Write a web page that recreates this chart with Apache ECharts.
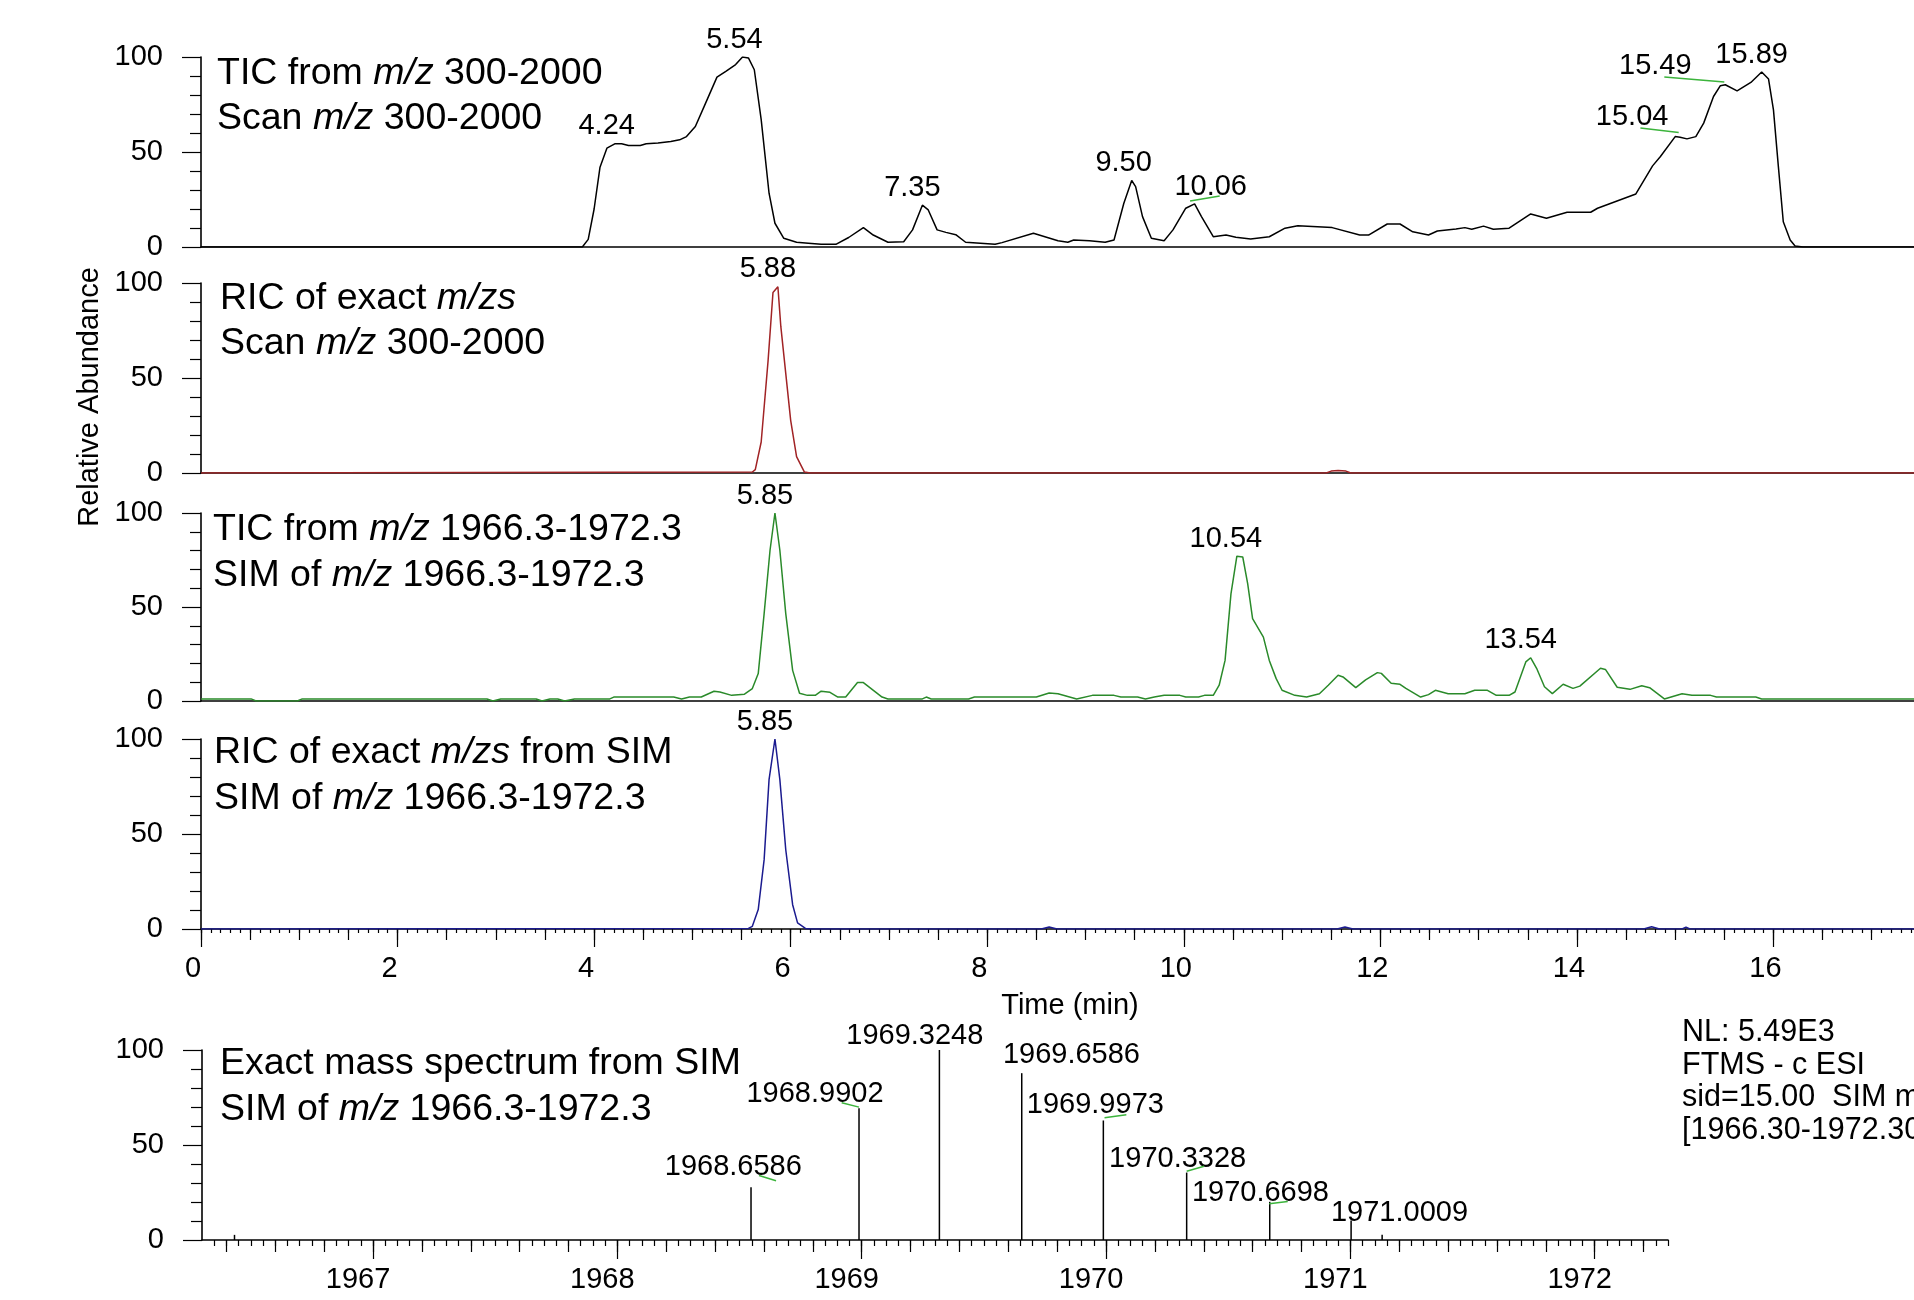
<!DOCTYPE html>
<html>
<head>
<meta charset="utf-8">
<title>TIC / RIC chromatograms and exact mass spectrum</title>
<script src="https://cdn.jsdelivr.net/npm/echarts@6.0.0/dist/echarts.min.js"></script>
<style>
  html, body { margin: 0; padding: 0; background: #fff; }
  #chart { width: 1914px; height: 1300px; }
</style>
</head>
<body>
<div id="chart"></div>
<script>
// ---- values ----
// TIC from m/z 300-2000 (black)
const ticTimes = [0, 3.88, 3.94, 4.00, 4.06, 4.13, 4.21, 4.28, 4.35, 4.47, 4.53, 4.65, 4.78, 4.87, 4.94, 5.03, 5.12, 5.25, 5.34, 5.44, 5.51, 5.57, 5.63, 5.70, 5.78, 5.84, 5.93, 6.06, 6.18, 6.31, 6.46, 6.59, 6.74, 6.84, 6.99, 7.15, 7.24, 7.34, 7.40, 7.49, 7.58, 7.68, 7.78, 8.08, 8.15, 8.47, 8.72, 8.82, 8.88, 9.04, 9.20, 9.29, 9.39, 9.47, 9.51, 9.58, 9.67, 9.80, 9.89, 10.02, 10.11, 10.18, 10.30, 10.43, 10.53, 10.68, 10.87, 11.03, 11.16, 11.51, 11.79, 11.88, 12.07, 12.20, 12.33, 12.49, 12.58, 12.77, 12.86, 12.93, 13.05, 13.15, 13.31, 13.53, 13.69, 13.90, 14.14, 14.21, 14.60, 14.77, 14.85, 15.00, 15.05, 15.12, 15.21, 15.29, 15.39, 15.46, 15.51, 15.63, 15.77, 15.88, 15.95, 16.00, 16.05, 16.10, 16.17, 16.22, 16.30, 17.43];
const ticValues = [0, 0, 4, 20, 42, 52, 54.3, 54.3, 53.4, 53.4, 54.3, 54.7, 55.5, 56.4, 58.1, 63.4, 74, 89.4, 92.4, 96, 100, 99.5, 93.3, 67, 28.3, 12.5, 4.6, 2.5, 2, 1.4, 1.4, 5, 10.2, 6.3, 2.5, 2.8, 9, 22, 19.5, 9, 7.7, 6.5, 2.5, 1.4, 2.3, 7.2, 3.3, 2.5, 3.7, 3.3, 2.5, 3.7, 23, 35, 31.8, 16, 4.6, 3.3, 9, 20.4, 22.7, 16, 5.4, 6.3, 5.1, 4.2, 5.4, 9.9, 11.2, 10.2, 6.3, 6.3, 12.1, 12.1, 8, 6.3, 8.4, 9.5, 10.2, 9.3, 11, 9.3, 9.9, 17.4, 15.1, 18.3, 18.3, 20.4, 27.9, 42.7, 47.6, 58.1, 57.8, 56.9, 58.1, 65.2, 79.2, 84.9, 85.4, 82.2, 86.6, 92.1, 88.4, 72.2, 42.3, 13.3, 3.7, 0.5, 0, 0];
const ticPeakTimes = [4.24, 5.54, 7.35, 9.50, 10.06, 15.04, 15.49, 15.89];
const ticPeakHeights = [54.3, 100, 22, 35, 22, 58, 85.4, 92.1];

// RIC of exact m/zs, scan (dark red)
const ricTimes = [0, 5.61, 5.64, 5.70, 5.77, 5.82, 5.87, 5.90, 6.00, 6.06, 6.14, 6.20, 11.45, 11.50, 11.57, 11.65, 11.70, 17.43];
const ricValues = [0, 0.5, 1.8, 16.3, 59, 95, 98, 77, 27.7, 8.6, 0.5, 0, 0, 1, 1.3, 1, 0, 0];
const ricPeakTimes = [5.88];
const ricPeakHeights = [98];

// TIC from m/z 1966.3-1972.3, SIM (green)
const simTicTimes = [0, 0.51, 0.56, 0.98, 1.03, 2.91, 2.97, 3.05, 3.41, 3.47, 3.55, 3.63, 3.70, 3.80, 4.16, 4.20, 4.81, 4.89, 4.97, 5.09, 5.22, 5.28, 5.40, 5.53, 5.61, 5.67, 5.73, 5.79, 5.84, 5.89, 5.95, 6.02, 6.09, 6.17, 6.25, 6.31, 6.40, 6.48, 6.56, 6.68, 6.74, 6.93, 6.99, 7.34, 7.38, 7.43, 7.81, 7.87, 8.50, 8.63, 8.72, 8.91, 9.07, 9.29, 9.36, 9.53, 9.61, 9.70, 9.80, 9.96, 10.02, 10.15, 10.21, 10.30, 10.36, 10.42, 10.48, 10.54, 10.60, 10.65, 10.70, 10.81, 10.87, 10.94, 11.00, 11.13, 11.25, 11.38, 11.47, 11.57, 11.62, 11.75, 11.85, 11.97, 12.01, 12.11, 12.20, 12.26, 12.41, 12.49, 12.56, 12.69, 12.86, 12.96, 13.09, 13.18, 13.31, 13.37, 13.48, 13.53, 13.59, 13.67, 13.75, 13.86, 13.96, 14.03, 14.24, 14.29, 14.41, 14.54, 14.66, 14.74, 14.89, 15.07, 15.17, 15.36, 15.42, 15.82, 15.88, 17.43];
const simTicValues = [1.1, 1.1, 0, 0, 1.1, 1.1, 0, 1.1, 1.1, 0, 1.1, 1.1, 0, 1.1, 1.1, 2.1, 2.1, 1.1, 2.1, 2.1, 5.2, 4.8, 3, 3.6, 6.6, 14.6, 46.5, 80.2, 100, 80.2, 46.5, 16.3, 4.1, 3, 3, 5.2, 4.6, 2.1, 2.1, 9.8, 9.8, 2.1, 1.1, 1.1, 2.1, 1.1, 1.1, 2.1, 2.1, 4.3, 3.9, 1.1, 3, 3, 2.1, 2.1, 1.1, 2.1, 3, 3, 2.1, 2.1, 3, 3, 8.4, 21.6, 57, 77, 76.6, 62.4, 43.8, 34, 21.6, 11.9, 5.7, 3, 2.1, 3.9, 8.4, 13.7, 12.8, 7.1, 11.2, 15.1, 14.7, 9.4, 8.9, 6.7, 2.1, 3.4, 5.7, 3.9, 3.9, 5.7, 5.7, 3, 3, 4.8, 20.8, 23, 17.4, 7.6, 3.9, 8.9, 6.7, 7.9, 17.4, 16.8, 7.3, 6.2, 8.1, 7.1, 1.1, 3.9, 3, 3, 2.1, 2.1, 1.1, 1.1];
const simTicPeakTimes = [5.85, 10.54, 13.54];
const simTicPeakHeights = [100, 77, 23];

// RIC of exact m/zs from SIM (navy)
const simRicTimes = [0, 5.57, 5.61, 5.67, 5.73, 5.78, 5.84, 5.89, 5.95, 6.02, 6.07, 6.15, 6.20, 8.55, 8.63, 8.71, 11.56, 11.64, 11.72, 14.68, 14.76, 14.84, 15.07, 15.11, 15.15, 17.43];
const simRicValues = [0, 0.3, 1.4, 10.2, 36.5, 78.6, 100, 78.6, 41.7, 12.8, 3.2, 0.3, 0, 0, 1, 0, 0, 1, 0, 0, 1.2, 0, 0, 1, 0, 0];
const simRicPeakTimes = [5.85];
const simRicPeakHeights = [100];

// exact mass spectrum from SIM
const specMz = [1966.433, 1968.547, 1968.989, 1969.318, 1969.655, 1969.989, 1970.330, 1970.670, 1971.003, 1971.130];
const specIntensity = [2.7, 27.8, 69.4, 100, 87.8, 62.9, 35.5, 20.1, 10.3, 2.7];
const specLabels = ['', '1968.6586', '1968.9902', '1969.3248', '1969.6586', '1969.9973', '1970.3328', '1970.6698', '1971.0009', ''];

// axes
const timeTickLabels = [0, 2, 4, 6, 8, 10, 12, 14, 16];
const mzTickLabels = [1967, 1968, 1969, 1970, 1971, 1972];
const timeAxisEnd = 17.43;          // the figure is cut off here
const mzRange = [1966.3, 1972.3];

// ---- styling ----
const FONT = '"Liberation Sans", Arial, Helvetica, sans-serif';
const LEADER = '#3cb43c';
const DEFAULT_OFF = [-11, -17.5];

// label placement (px relative to peak top) where the label was pushed aside
const peakLabelOffsets = {
  '10.06': [21, -18.6],
  '15.04': [-47, -19.5],
  '15.49': [-68, -18.3]
};
const peakLeaders = {
  '10.06': [0.4, -4.3, 30, -9.3],
  '15.04': [-38.7, -8.7, -0.4, -4.3],
  '15.49': [-59, -7.7, 1, -2.7]
};
const specLabelOffsets = {
  '1968.6586': [-17.7, -19.7],
  '1968.9902': [-44, -14.4],
  '1969.3248': [-24.6, -13.8],
  '1969.6586': [49.7, -17.7],
  '1969.9973': [-8, -15],
  '1970.3328': [-9, -13.7],
  '1970.6698': [-9.3, -8.8],
  '1971.0009': [48.4, -7.5]
};
const specLeaders = {
  '1968.6586': [8, -11.7, 25, -6.4],
  '1968.9902': [-17.3, -5.4, 0, -1],
  '1969.9973': [1.2, -2.7, 23, -5.7],
  '1970.3328': [0, -1.3, 17.4, -6.3],
  '1970.6698': [-0.6, 2, 18, -0.3]
};

const zip = (xs, ys) => xs.map((x, i) => [x, ys[i]]);

const steps = (from, to, step) => {
  const out = [];
  for (let k = Math.ceil(from / step - 1e-9); k * step <= to + 1e-9; k++) {
    out.push(+(k * step).toFixed(4));
  }
  return out;
};

const grids = [
  { left: 201, top: 57, width: 1713, height: 190 },
  { left: 201, top: 283, width: 1713, height: 190 },
  { left: 201, top: 513, width: 1713, height: 188 },
  { left: 201, top: 739, width: 1713, height: 190 },
  { left: 202, top: 1050, width: 1466, height: 190 }
].map(g => Object.assign({ outerBoundsMode: 'none', containLabel: false }, g));

const tickStyle = { color: '#000', width: 1.2 };

// plain baseline axis
const baselineAxis = (gridIndex) => ({
  type: 'value', gridIndex, min: 0, max: timeAxisEnd, position: 'bottom',
  axisLine: { show: true, onZero: false, lineStyle: { color: '#000', width: 1.6 } },
  axisTick: { show: false },
  axisLabel: { show: false },
  splitLine: { show: false }
});

// one level of ticks (extra axes stacked on the same grid)
const tickAxis = (gridIndex, min, max, values, length, labels, labelShift) => ({
  type: 'value', gridIndex, min, max, position: 'bottom',
  axisLine: { show: !!labels, onZero: false, lineStyle: { color: '#000', width: 1.6 } },
  axisTick: { show: true, customValues: values, length, lineStyle: tickStyle },
  axisLabel: labels ? {
    show: true, customValues: labels, fontSize: 29, fontFamily: FONT, color: '#000',
    margin: 25, padding: [0, labelShift, 0, 0], formatter: v => String(v)
  } : { show: false },
  splitLine: { show: false }
});

const yAxis = (gridIndex) => ({
  type: 'value', gridIndex, min: 0, max: 100, interval: 50,
  axisLine: { show: true, onZero: false, lineStyle: { color: '#000', width: 1.6 } },
  axisTick: { show: true, length: 19, lineStyle: tickStyle },
  minorTick: { show: true, splitNumber: 5, length: 11, lineStyle: tickStyle },
  axisLabel: { show: true, fontSize: 29, fontFamily: FONT, color: '#000', margin: 38, padding: [6, 0, 0, 0] },
  splitLine: { show: false },
  minorSplitLine: { show: false }
});

const xAxes = [
  baselineAxis(0),
  baselineAxis(1),
  baselineAxis(2),
  tickAxis(3, 0, timeAxisEnd, timeTickLabels, 18, timeTickLabels, 16),
  tickAxis(3, 0, timeAxisEnd, steps(0, timeAxisEnd, 0.5), 11),
  tickAxis(3, 0, timeAxisEnd, steps(0, timeAxisEnd, 0.1), 4),
  tickAxis(4, mzRange[0], mzRange[1], mzTickLabels, 19, mzTickLabels, 30),
  tickAxis(4, mzRange[0], mzRange[1], steps(mzRange[0], mzRange[1], 0.2), 12),
  tickAxis(4, mzRange[0], mzRange[1], steps(mzRange[0] + 0.01, mzRange[1], 0.05), 6)
];

const trace = (xIdx, yIdx, xs, ys, color) => ({
  type: 'line', xAxisIndex: xIdx, yAxisIndex: yIdx,
  data: zip(xs, ys), showSymbol: false, symbol: 'none', smooth: false,
  lineStyle: { color, width: 1.5 }, z: 3
});

// peak labels with optional green leader
const labelSeries = (xIdx, yIdx, xs, ys, texts, offsets, leaders) => ({
  type: 'custom', xAxisIndex: xIdx, yAxisIndex: yIdx, clip: false, silent: true, z: 6,
  data: zip(xs, ys),
  renderItem: (params, api) => {
    const txt = texts[params.dataIndex];
    if (!txt) return null;
    const p = api.coord([api.value(0), api.value(1)]);
    const off = offsets[txt] || DEFAULT_OFF;
    const children = [{
      type: 'text', x: p[0] + off[0], y: p[1] + off[1],
      style: { text: txt, font: '29px ' + FONT, fill: '#000', align: 'center', verticalAlign: 'middle' }
    }];
    const ld = leaders[txt];
    if (ld) {
      children.push({
        type: 'line',
        shape: { x1: p[0] + ld[0], y1: p[1] + ld[1], x2: p[0] + ld[2], y2: p[1] + ld[3] },
        style: { stroke: LEADER, lineWidth: 1.5 }
      });
    }
    return { type: 'group', children };
  }
});

// centroid sticks of the spectrum
const stickSeries = {
  type: 'custom', xAxisIndex: 6, yAxisIndex: 4, z: 3,
  data: zip(specMz, specIntensity),
  renderItem: (params, api) => {
    const top = api.coord([api.value(0), api.value(1)]);
    const base = api.coord([api.value(0), 0]);
    return {
      type: 'line',
      shape: { x1: top[0], y1: top[1], x2: base[0], y2: base[1] },
      style: { stroke: '#000', lineWidth: 1.5 }
    };
  }
};

const fmt = t => t.toFixed(2);

// panel captions
const rich = {
  n: { fontSize: 37.5, fontFamily: FONT, fill: '#000' },
  i: { fontSize: 37.5, fontFamily: FONT, fontStyle: 'italic', fill: '#000' }
};
const caption = (x, y, text) => ({
  type: 'text', x, y, silent: true,
  style: { text, rich, verticalAlign: 'middle', align: 'left' }
});
const plain = (x, y, text, extra) => ({
  type: 'text', x, y, silent: true,
  style: Object.assign({ text, font: '29px ' + FONT, fill: '#000', verticalAlign: 'middle', align: 'left' }, extra)
});

const graphic = [
  caption(217, 74, '{n|TIC from }{i|m/z}{n| 300-2000}'),
  caption(217, 119, '{n|Scan }{i|m/z}{n| 300-2000}'),
  caption(220, 299, '{n|RIC of exact }{i|m/zs}'),
  caption(220, 344, '{n|Scan }{i|m/z}{n| 300-2000}'),
  caption(213, 530, '{n|TIC from }{i|m/z}{n| 1966.3-1972.3}'),
  caption(213, 576, '{n|SIM of }{i|m/z}{n| 1966.3-1972.3}'),
  caption(214, 753, '{n|RIC of exact }{i|m/zs}{n| from SIM}'),
  caption(214, 799, '{n|SIM of }{i|m/z}{n| 1966.3-1972.3}'),
  caption(220, 1064, '{n|Exact mass spectrum from SIM}'),
  caption(220, 1110, '{n|SIM of }{i|m/z}{n| 1966.3-1972.3}'),
  plain(1070, 1006, 'Time (min)', { align: 'center' }),
  Object.assign(plain(90, 397, 'Relative Abundance', { align: 'center' }), { rotation: Math.PI / 2 }),
  plain(1682, 1033, 'NL: 5.49E3', { font: '30.5px ' + FONT }),
  plain(1682, 1065.5, 'FTMS - c ESI', { font: '30.5px ' + FONT }),
  plain(1682, 1098, 'sid=15.00  SIM ms', { font: '30.5px ' + FONT }),
  plain(1682, 1131, '[1966.30-1972.30]', { font: '30.5px ' + FONT })
];

const chart = echarts.init(document.getElementById('chart'));
chart.setOption({
  backgroundColor: '#fff',
  animation: false,
  textStyle: { fontFamily: FONT },
  grid: grids,
  xAxis: xAxes,
  yAxis: [yAxis(0), yAxis(1), yAxis(2), yAxis(3), yAxis(4)],
  graphic,
  series: [
    trace(0, 0, ticTimes, ticValues, '#000000'),
    labelSeries(0, 0, ticPeakTimes, ticPeakHeights, ticPeakTimes.map(fmt), peakLabelOffsets, peakLeaders),
    trace(1, 1, ricTimes, ricValues, '#a12325'),
    labelSeries(1, 1, ricPeakTimes, ricPeakHeights, ricPeakTimes.map(fmt), peakLabelOffsets, peakLeaders),
    trace(2, 2, simTicTimes, simTicValues, '#2a8a2a'),
    labelSeries(2, 2, simTicPeakTimes, simTicPeakHeights, simTicPeakTimes.map(fmt), peakLabelOffsets, peakLeaders),
    trace(3, 3, simRicTimes, simRicValues, '#1b1b8f'),
    labelSeries(3, 3, simRicPeakTimes, simRicPeakHeights, simRicPeakTimes.map(fmt), peakLabelOffsets, peakLeaders),
    stickSeries,
    labelSeries(6, 4, specMz, specIntensity, specLabels, specLabelOffsets, specLeaders)
  ]
});
</script>
</body>
</html>
